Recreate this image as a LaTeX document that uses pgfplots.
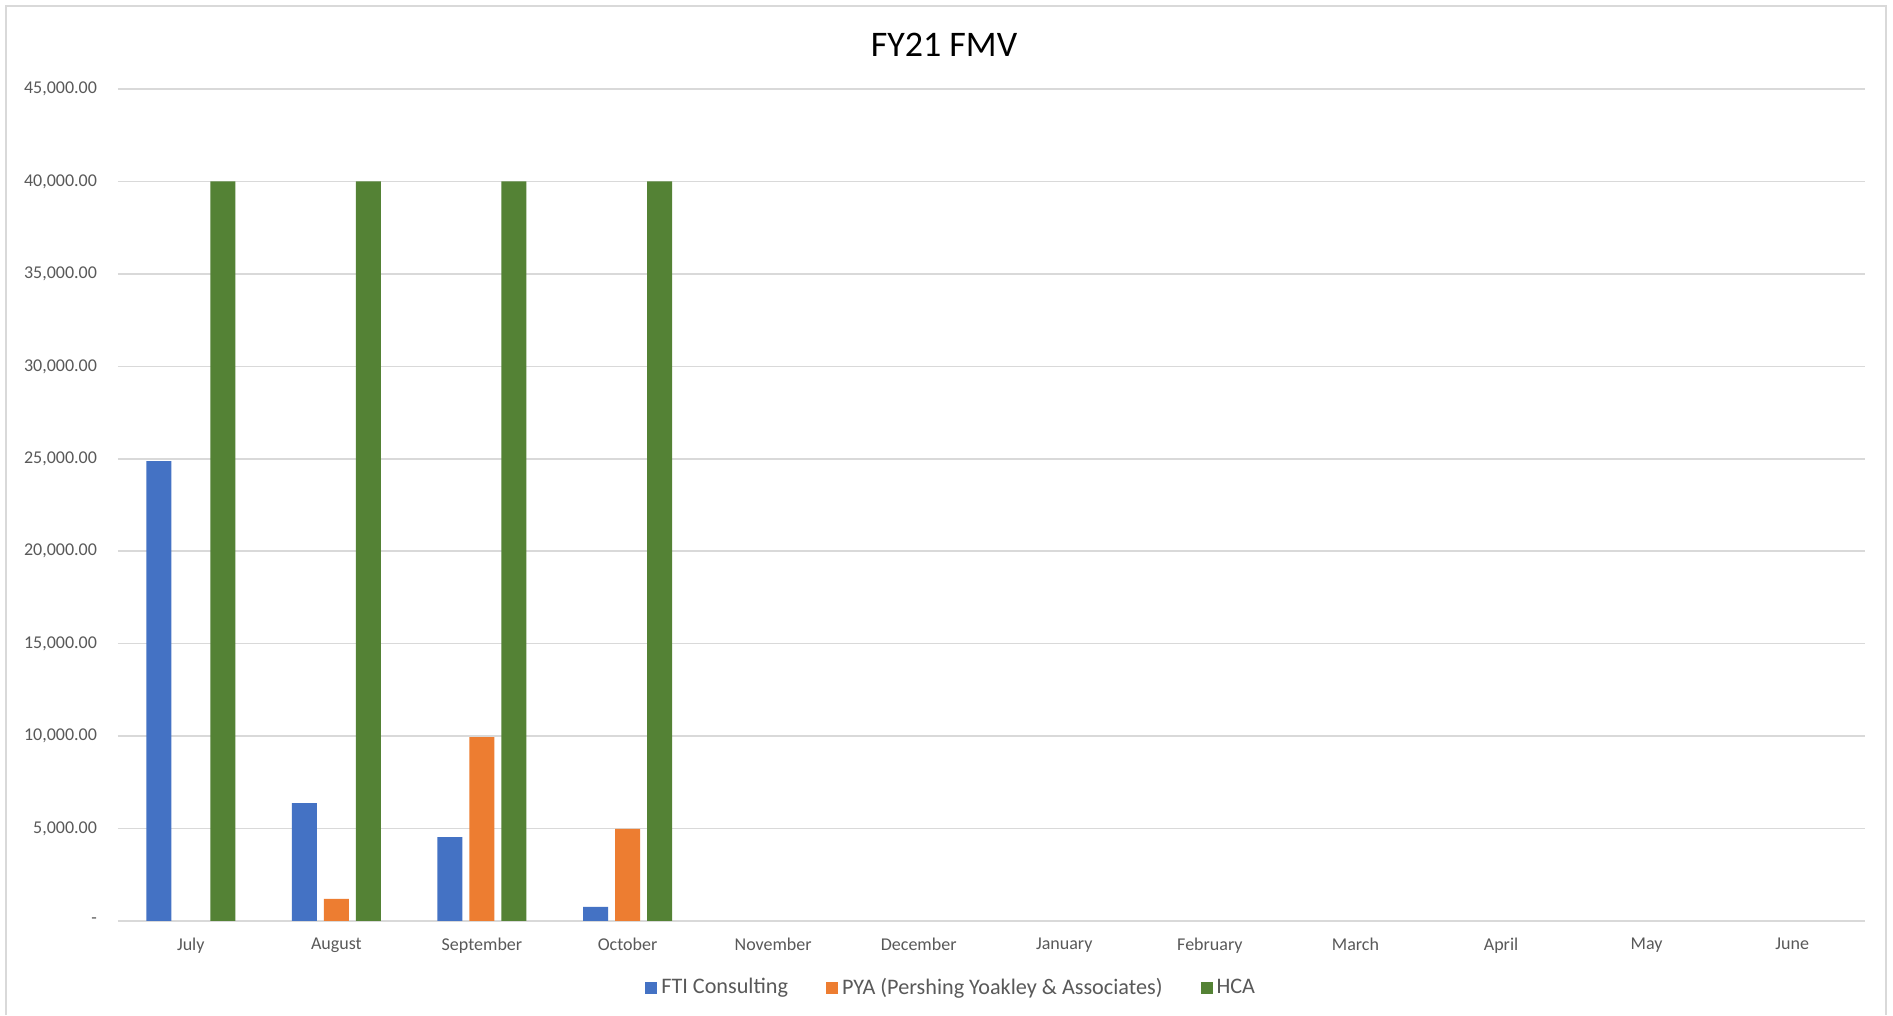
\documentclass[border=0pt]{standalone}
\usepackage{pgfplots}
\pgfplotsset{compat=1.18}
\usepackage{fontspec}
\setmainfont{Carlito}
\definecolor{ftiblue}{HTML}{4472C4}
\definecolor{pyaorange}{HTML}{ED7D31}
\definecolor{hcagreen}{HTML}{548235}
\definecolor{txtgray}{HTML}{595959}
\definecolor{gridgray}{HTML}{D9D9D9}
\begin{document}
\begin{tikzpicture}
\path[fill=white] (0pt,0pt) rectangle (946.5pt,507.5pt);
\draw[gridgray, line width=0.8pt] (3pt,0pt) -- (3pt,504.5pt) -- (943pt,504.5pt) -- (943pt,0pt);
\begin{axis}[
  at={(59pt,47pt)}, anchor=south west,
  scale only axis, width=873.5pt, height=416pt,
  ybar=3.5pt, bar width=12.5pt,
  xmin=-0.5, xmax=11.5, ymin=0, ymax=45000,
  scaled y ticks=false,
  xtick={0,...,11},
  xticklabels={July,August,September,October,November,December,January,February,March,April,May,June},
  ytick={0,5000,10000,15000,20000,25000,30000,35000,40000,45000},
  yticklabels={{-},{5,000.00},{10,000.00},{15,000.00},{20,000.00},{25,000.00},{30,000.00},{35,000.00},{40,000.00},{45,000.00}},
  ymajorgrids, major grid style={gridgray, line width=0.8pt},
  axis line style={draw=none},
  major tick style={draw=none},
  tick label style={font=\fontsize{9}{10}\selectfont, text=txtgray},
  xticklabel style={yshift=-0.6pt},
  yticklabel style={xshift=-7pt},
  title={FY21 FMV},
  title style={font=\fontsize{18}{20}\selectfont, at={(0.4728,1.039)}, anchor=center},
  legend columns=3,
  legend style={draw=none, fill=none, at={(0.4775,-0.080)}, anchor=center,
    font=\fontsize{11.1}{13}\selectfont, text=txtgray,
    /tikz/every even column/.append style={column sep=17pt}},
  legend image code/.code={\fill[#1] (0pt,-3pt) rectangle (6pt,3pt);},
]
\addplot[fill=ftiblue, draw=none] coordinates {(0,24870) (1,6370) (2,4530) (3,760)};
\addplot[fill=pyaorange, draw=none] coordinates {(1,1190) (2,9950) (3,4980)};
\addplot[fill=hcagreen, draw=none] coordinates {(0,40000) (1,40000) (2,40000) (3,40000)};
\legend{FTI Consulting, PYA (Pershing Yoakley \& Associates), HCA}
\end{axis}
\end{tikzpicture}
\end{document}
